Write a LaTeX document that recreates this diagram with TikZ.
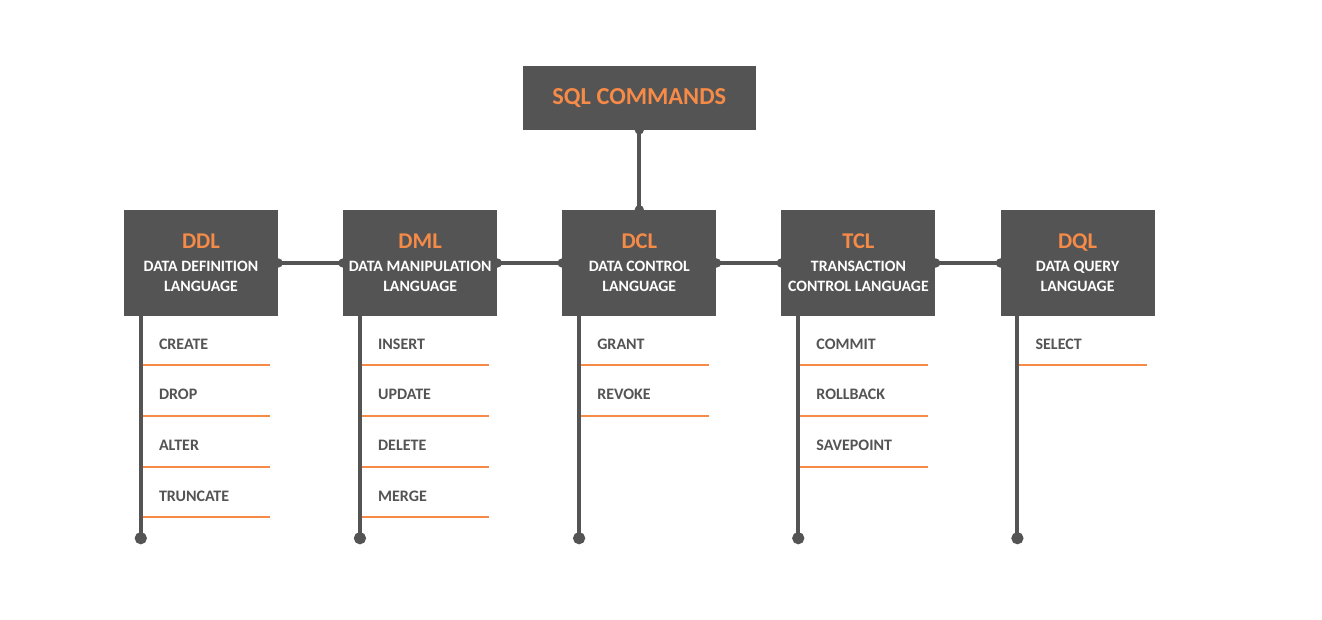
\documentclass[tikz,border=0pt]{standalone}
\usepackage{fontspec}
\setmainfont{Carlito}
\usetikzlibrary{arrows.meta,positioning}

\definecolor{boxgray}{HTML}{545454}
\definecolor{cmdorange}{HTML}{F68A47}

\tikzset{
  cmdbox/.style={fill=boxgray, minimum width=154, minimum height=106, inner sep=0,
    align=center, text=white, font=\bfseries\fontsize{15.8}{20}\selectfont},
  topbox/.style={fill=boxgray, minimum width=233, minimum height=64, inner sep=0,
    text=cmdorange, font=\bfseries\fontsize{24.4}{26}\selectfont},
  link/.style={draw=boxgray, line width=4pt, {Circle[length=9pt]}-{Circle[length=9pt]},
    shorten <=-4.5pt, shorten >=-4.5pt},
  stem/.style={draw=boxgray, line width=4pt, -{Circle[length=12pt]}, shorten >=-6pt},
  cmditem/.style={text width=93, inner xsep=18, inner ysep=0, minimum height=42,
    align=left, text=boxgray, font=\bfseries\fontsize{16}{18}\selectfont},
  itemline/.style={draw=cmdorange, line width=2pt}
}
\newcommand{\abbr}[1]{{\fontsize{22.5}{20}\selectfont\color{cmdorange}#1}\\[3pt]}

\begin{document}
\begin{tikzpicture}[x=1pt,y=-1pt,node distance=64.75pt]
  \fill[white] (0,0) rectangle (1322,619);
  \useasboundingbox (0,0) rectangle (1322,619);

  % language groups
  \node[cmdbox] (ddl) at (201,263) {\abbr{DDL}DATA DEFINITION\\LANGUAGE};
  \node[cmdbox] (dml) [right=of ddl] {\abbr{DML}DATA MANIPULATION\\LANGUAGE};
  \node[cmdbox] (dcl) [right=of dml] {\abbr{DCL}DATA CONTROL\\LANGUAGE};
  \node[cmdbox] (tcl) [right=of dcl] {\abbr{TCL}TRANSACTION\\CONTROL LANGUAGE};
  \node[cmdbox] (dql) [right=of tcl] {\abbr{DQL}DATA QUERY\\LANGUAGE};
  \node[topbox] (sql) [above=80pt of dcl] {SQL COMMANDS};

  \path[link] (sql) -- (dcl);
  \path[link] (ddl) -- (dml);
  \path[link] (dml) -- (dcl);
  \path[link] (dcl) -- (tcl);
  \path[link] (tcl) -- (dql);

  % commands of each group
  \foreach \grp/\cmds in {ddl/{CREATE,DROP,ALTER,TRUNCATE},
                          dml/{INSERT,UPDATE,DELETE,MERGE},
                          dcl/{GRANT,REVOKE},
                          tcl/{COMMIT,ROLLBACK,SAVEPOINT},
                          dql/{SELECT}} {
    \foreach \cmd [count=\i] in \cmds {
      \node[cmditem, anchor=south west] (\grp-\i)
        at ([xshift=17pt, yshift={-49pt-50.67pt*(\i-1)}]\grp.south west) {\cmd};
      \draw[itemline] (\grp-\i.south west) -- (\grp-\i.south east);
    }
    \draw[stem] ([xshift=17pt]\grp.south west) -- ++(0,222) coordinate (\grp-end);
  }
\end{tikzpicture}
\end{document}
